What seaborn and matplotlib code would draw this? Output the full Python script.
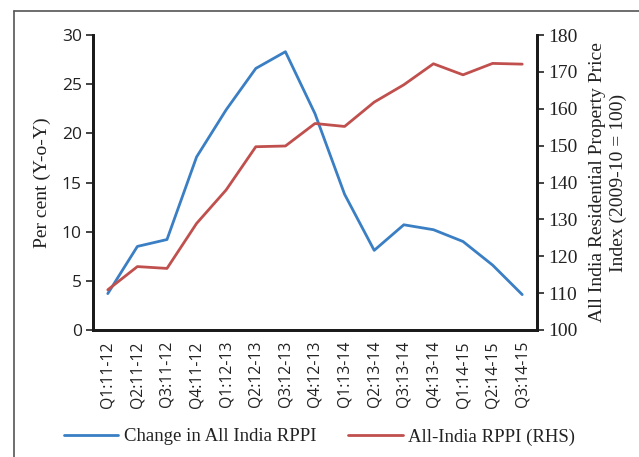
import numpy as np
import pandas as pd
import matplotlib
matplotlib.use('Agg')
import matplotlib.pyplot as plt
import seaborn as sns
from matplotlib.lines import Line2D

# --- Data ---
quarters = ['Q1:11-12', 'Q2:11-12', 'Q3:11-12', 'Q4:11-12',
            'Q1:12-13', 'Q2:12-13', 'Q3:12-13', 'Q4:12-13',
            'Q1:13-14', 'Q2:13-14', 'Q3:13-14', 'Q4:13-14',
            'Q1:14-15', 'Q2:14-15', 'Q3:14-15']
yoy_change = [3.7, 8.5, 9.2, 17.6, 22.4, 26.6, 28.3, 22.0,
              13.8, 8.1, 10.7, 10.2, 9.0, 6.6, 3.6]
rppi_index = [110.9, 117.2, 116.7, 128.9, 138.0, 149.7, 149.9, 156.0,
              155.2, 161.8, 166.5, 172.2, 169.2, 172.3, 172.1]

BLUE = '#3a7fc4'
RED = '#c0504d'
SERIF = 'Liberation Serif'
SANS = 'Open Sans'

df = pd.DataFrame({'pos': np.arange(len(quarters)),
                   'yoy': yoy_change, 'rppi': rppi_index})

sns.set_style('white')
plt.rcParams['font.family'] = [SERIF, 'DejaVu Serif']

fig = plt.figure(figsize=(6.39, 4.57), dpi=100)
ax = fig.add_axes([0.1455, 0.2779, 0.6949, 0.6455])
ax2 = ax.twinx()

sns.lineplot(data=df, x='pos', y='yoy', ax=ax, color=BLUE, linewidth=2.0)
sns.lineplot(data=df, x='pos', y='rppi', ax=ax2, color=RED, linewidth=2.0)

# axes ranges
ax.set_xlim(-0.5, len(quarters) - 0.5)
ax.set_ylim(0, 30)
ax2.set_ylim(100, 180)
ax.set_yticks(range(0, 31, 5))
ax2.set_yticks(range(100, 181, 10))

# x ticks: labels at categories, tick marks at boundaries
ax.set_xticks(df['pos'])
ax.set_xticklabels(quarters, rotation=90, fontsize=11.3, family=SANS, color='#222222')
ax.set_xticks(np.arange(-0.5, len(quarters)), minor=True)
ax.tick_params(axis='x', which='major', length=0, pad=8)
ax.tick_params(axis='x', which='minor', length=5, width=1.2, color='#222222', direction='out')

ax.tick_params(axis='y', length=5, width=1.2, color='#222222', direction='out', pad=3)
ax2.tick_params(axis='y', length=5, width=1.2, color='#222222', direction='out', pad=3)
for lab in ax.get_yticklabels():
    lab.set_family(SANS)
    lab.set_fontsize(12.5)
    lab.set_color('#222222')
for lab in ax2.get_yticklabels():
    lab.set_family(SERIF)
    lab.set_fontsize(14)
    lab.set_color('#222222')

for a in (ax, ax2):
    a.set_xlabel('')
    a.spines['top'].set_visible(False)
    for s in ('left', 'right', 'bottom'):
        a.spines[s].set_color('#1a1a1a')
        a.spines[s].set_linewidth(2)
    a.grid(False)

ax.set_ylabel('Per cent (Y-o-Y)', fontsize=14, color='#222222', labelpad=8)
ax2.set_ylabel('All India Residential Property Price\nIndex (2009-10 = 100)',
               fontsize=14, color='#222222', labelpad=8, linespacing=1.3)

# legend below the chart
handles = [Line2D([0], [0], color=BLUE, lw=2.0),
           Line2D([0], [0], color=RED, lw=2.0)]
fig.legend(handles, ['Change in All India RPPI', 'All-India RPPI (RHS)'],
           loc='center', bbox_to_anchor=(0.5, 0.044), ncol=2, frameon=False,
           fontsize=13.5, handlelength=2.9, handletextpad=0.3, columnspacing=1.7,
           labelcolor='#222222')

# outer frame (top and left edges)
fig.add_artist(Line2D([14 / 639, 14 / 639], [0, 1 - 11 / 457],
                      transform=fig.transFigure, color='#555555', lw=1.2))
fig.add_artist(Line2D([14 / 639, 1], [1 - 11 / 457, 1 - 11 / 457],
                      transform=fig.transFigure, color='#555555', lw=1.2))

fig.savefig('out.png', dpi=100, facecolor='white')
